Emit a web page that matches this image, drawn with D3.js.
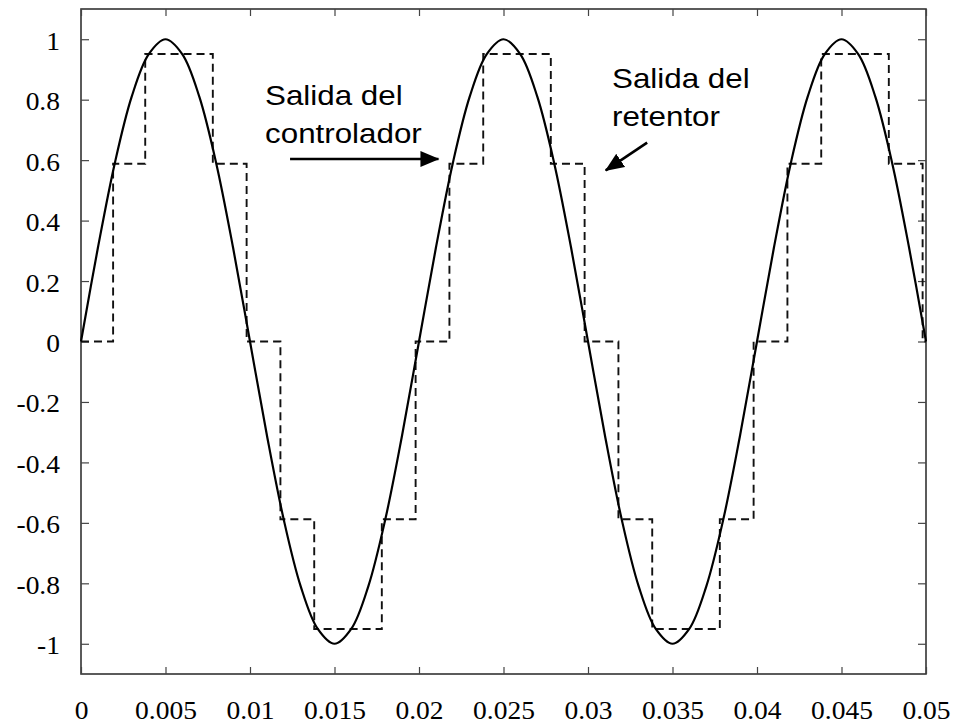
<!DOCTYPE html>
<html>
<head>
<meta charset="utf-8">
<script src="https://cdn.jsdelivr.net/npm/d3@7"></script>
<style>
  body { margin: 0; background: #fff; }
  svg { display: block; }
</style>
</head>
<body>
<svg id="canvas" width="953" height="724"></svg>
<script>
// salida del controlador (read every 0.001 s)
const ctrlTime = [
  0, 0.001, 0.002, 0.003, 0.004, 0.005, 0.006, 0.007, 0.008, 0.009,
  0.010, 0.011, 0.012, 0.013, 0.014, 0.015, 0.016, 0.017, 0.018, 0.019,
  0.020, 0.021, 0.022, 0.023, 0.024, 0.025, 0.026, 0.027, 0.028, 0.029,
  0.030, 0.031, 0.032, 0.033, 0.034, 0.035, 0.036, 0.037, 0.038, 0.039,
  0.040, 0.041, 0.042, 0.043, 0.044, 0.045, 0.046, 0.047, 0.048, 0.049,
  0.050
];
const ctrlValue = [
  0, 0.31, 0.59, 0.81, 0.95, 1, 0.95, 0.81, 0.59, 0.31,
  0, -0.31, -0.59, -0.81, -0.95, -1, -0.95, -0.81, -0.59, -0.31,
  0, 0.31, 0.59, 0.81, 0.95, 1, 0.95, 0.81, 0.59, 0.31,
  0, -0.31, -0.59, -0.81, -0.95, -1, -0.95, -0.81, -0.59, -0.31,
  0, 0.31, 0.59, 0.81, 0.95, 1, 0.95, 0.81, 0.59, 0.31,
  0
];

// salida del retentor (step edges and held values)
const holdTime = [
  0, 0.0019, 0.0038, 0.0058, 0.0078, 0.0098, 0.0118, 0.0138, 0.0158, 0.0178,
  0.0198, 0.0218, 0.0238, 0.0258, 0.0278, 0.0298, 0.0318, 0.0338, 0.0358, 0.0378,
  0.0398, 0.0418, 0.0438, 0.0458, 0.0478, 0.0498, 0.05
];
const holdValue = [
  0, 0.588, 0.951, 0.951, 0.588, 0, -0.588, -0.951, -0.951, -0.588,
  0, 0.588, 0.951, 0.951, 0.588, 0, -0.588, -0.951, -0.951, -0.588,
  0, 0.588, 0.951, 0.951, 0.588, 0, 0
];

const xTicks = [0, 0.005, 0.01, 0.015, 0.02, 0.025, 0.03, 0.035, 0.04, 0.045, 0.05];
const xTickLabels = ['0', '0.005', '0.01', '0.015', '0.02', '0.025', '0.03', '0.035', '0.04', '0.045', '0.05'];
const yTicks = [-1, -0.8, -0.6, -0.4, -0.2, 0, 0.2, 0.4, 0.6, 0.8, 1];
const yTickLabels = ['-1', '-0.8', '-0.6', '-0.4', '-0.2', '0', '0.2', '0.4', '0.6', '0.8', '1'];

const svg = d3.select('#canvas');

const x = d3.scaleLinear().domain([0, 0.05]).range([81, 926]);
const y = d3.scaleLinear().domain([-1.1, 1.1]).range([674, 9]);

const stretch = 'scale(1.1,1)';

// frame
svg.append('rect')
  .attr('x', x(0))
  .attr('y', y(1.1))
  .attr('width', x(0.05) - x(0))
  .attr('height', y(-1.1) - y(1.1))
  .attr('fill', 'none')
  .attr('stroke', '#333')
  .attr('stroke-width', 1.6);

const styleAxis = (g) => {
  g.select('.domain').remove();
  g.selectAll('line').attr('stroke', '#444').attr('stroke-width', 1.2);
};

// bottom axis with labels
svg.append('g')
  .attr('transform', `translate(0,${y(-1.1)})`)
  .call(d3.axisBottom(x).tickValues(xTicks).tickSize(-7)
    .tickFormat((d, i) => xTickLabels[i]))
  .call(styleAxis)
  .call((g) => g.selectAll('text')
    .attr('y', 45).attr('dy', 0)
    .attr('transform', stretch)
    .attr('fill', '#000')
    .style('font-family', '"Liberation Serif", "Times New Roman", serif')
    .style('font-size', '25px'));

// top axis ticks only
svg.append('g')
  .attr('transform', `translate(0,${y(1.1)})`)
  .call(d3.axisTop(x).tickValues(xTicks).tickSize(-7).tickFormat(''))
  .call(styleAxis);

// left axis with labels
svg.append('g')
  .attr('transform', `translate(${x(0)},0)`)
  .call(d3.axisLeft(y).tickValues(yTicks).tickSize(-8)
    .tickFormat((d, i) => yTickLabels[i]))
  .call(styleAxis)
  .call((g) => g.selectAll('text')
    .attr('x', 0).attr('dy', '0.4em')
    .attr('transform', `translate(-21,0) ${stretch}`)
    .attr('fill', '#000')
    .style('font-family', '"Liberation Serif", "Times New Roman", serif')
    .style('font-size', '25px'));

// right axis ticks only
svg.append('g')
  .attr('transform', `translate(${x(0.05)},0)`)
  .call(d3.axisRight(y).tickValues(yTicks).tickSize(-8).tickFormat(''))
  .call(styleAxis);

// retentor (dashed staircase)
const holdLine = d3.line()
  .x((d, i) => x(holdTime[i]))
  .y((d) => y(d))
  .curve(d3.curveStepAfter);

svg.append('path')
  .datum(holdValue)
  .attr('d', holdLine)
  .attr('fill', 'none')
  .attr('stroke', '#111')
  .attr('stroke-width', 1.9)
  .attr('stroke-dasharray', '8,5');

// controlador (solid sine)
const ctrlLine = d3.line()
  .x((d, i) => x(ctrlTime[i]))
  .y((d) => y(d))
  .curve(d3.curveCatmullRom);

svg.append('path')
  .datum(ctrlValue)
  .attr('d', ctrlLine)
  .attr('fill', 'none')
  .attr('stroke', '#000')
  .attr('stroke-width', 2.2);

// annotations
svg.append('defs').append('marker')
  .attr('id', 'head')
  .attr('markerUnits', 'userSpaceOnUse')
  .attr('markerWidth', 20)
  .attr('markerHeight', 18)
  .attr('viewBox', '0 -9 20 18')
  .attr('refX', 18)
  .attr('refY', 0)
  .attr('orient', 'auto')
  .append('path')
  .attr('d', 'M0,-8L19,0L0,8Z')
  .attr('fill', '#000');

const notes = [
  { lines: ['Salida del', 'controlador'], t: 0.01089, v: 0.783, from: [0.01237, 0.604], to: [0.02115, 0.604] },
  { lines: ['Salida del', 'retentor'], t: 0.03142, v: 0.839, from: [0.03350, 0.658], to: [0.03105, 0.566] }
];

notes.forEach((n) => {
  n.lines.forEach((txt, i) => {
    svg.append('text')
      .attr('transform', `translate(${x(n.t)},${y(n.v) + i * 38}) ${stretch}`)
      .attr('fill', '#000')
      .style('font-family', '"Liberation Sans", Arial, sans-serif')
      .style('font-size', '28.5px')
      .text(txt);
  });
  svg.append('line')
    .attr('x1', x(n.from[0])).attr('y1', y(n.from[1]))
    .attr('x2', x(n.to[0])).attr('y2', y(n.to[1]))
    .attr('stroke', '#000')
    .attr('stroke-width', 2.6)
    .attr('marker-end', 'url(#head)');
});
</script>
</body>
</html>
